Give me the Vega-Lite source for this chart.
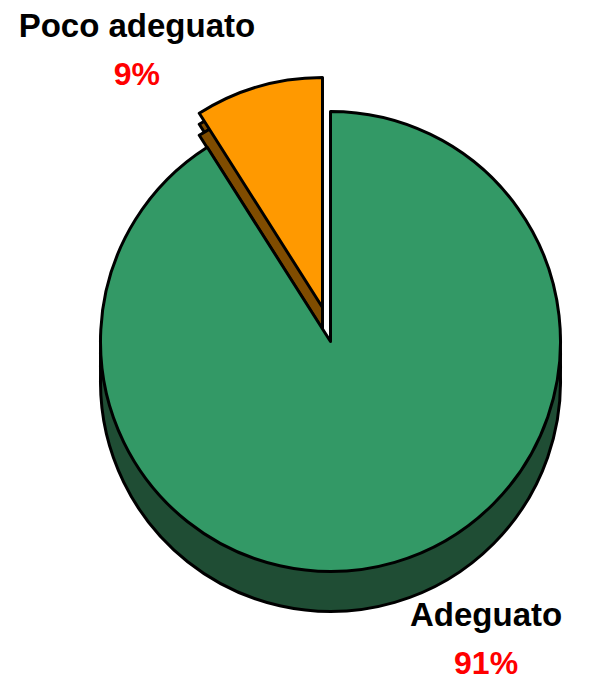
{
  "$schema": "https://vega.github.io/schema/vega-lite/v6.json",
  "width": 521,
  "height": 683,
  "autosize": {"type": "none"},
  "padding": {"left": 70, "top": 0, "right": 0, "bottom": 0},
  "config": {"view": {"stroke": null}},
  "data": {"values": [
    {"Esito": "Adeguato", "Percentuale": 91},
    {"Esito": "Poco adeguato", "Percentuale": 9}
  ]},
  "transform": [{"calculate": "datum.Percentuale + '%'", "as": "Etichetta"}],
  "encoding": {
    "theta": {"field": "Percentuale", "type": "quantitative", "stack": true},
    "order": {"field": "Percentuale", "type": "quantitative", "sort": "descending"},
    "detail": {"field": "Esito", "type": "nominal"}
  },
  "layer": [
    {"mark": {"type": "arc", "radius": 230, "yOffset": 12, "fill": "#1F4D34", "stroke": "black", "strokeWidth": 3, "strokeJoin": "round"},
     "encoding": {"opacity": {"condition": {"test": "datum.Esito === 'Adeguato'", "value": 1}, "value": 0}}},
    {"mark": {"type": "arc", "radius": 230, "yOffset": 25, "fill": "#1F4D34", "stroke": "black", "strokeWidth": 3, "strokeJoin": "round"},
     "encoding": {"opacity": {"condition": {"test": "datum.Esito === 'Adeguato'", "value": 1}, "value": 0}}},
    {"mark": {"type": "arc", "radius": 230, "yOffset": 40, "fill": "#1F4D34", "stroke": "black", "strokeWidth": 3, "strokeJoin": "round"},
     "encoding": {"opacity": {"condition": {"test": "datum.Esito === 'Adeguato'", "value": 1}, "value": 0}}},
    {"mark": {"type": "arc", "radius": 230, "xOffset": -8, "yOffset": -23, "fill": "#7F4C00", "stroke": "black", "strokeWidth": 3, "strokeJoin": "round"},
     "encoding": {"opacity": {"condition": {"test": "datum.Esito === 'Poco adeguato'", "value": 1}, "value": 0}}},
    {"mark": {"type": "arc", "radius": 230, "xOffset": -8, "yOffset": -12, "fill": "#7F4C00", "stroke": "black", "strokeWidth": 3, "strokeJoin": "round"},
     "encoding": {"opacity": {"condition": {"test": "datum.Esito === 'Poco adeguato'", "value": 1}, "value": 0}}},
    {"mark": {"type": "arc", "radius": 230, "xOffset": -8, "yOffset": -34, "fill": "#FF9900", "stroke": "black", "strokeWidth": 3, "strokeJoin": "round"},
     "encoding": {"opacity": {"condition": {"test": "datum.Esito === 'Poco adeguato'", "value": 1}, "value": 0}}},
    {"mark": {"type": "arc", "radius": 230, "fill": "#339966", "stroke": "black", "strokeWidth": 3, "strokeJoin": "round"},
     "encoding": {"opacity": {"condition": {"test": "datum.Esito === 'Adeguato'", "value": 1}, "value": 0}}},
    {"mark": {"type": "text", "radius": 342, "thetaOffset": -0.253, "dx": -19, "dy": -20, "font": "Liberation Sans", "fontWeight": "bold", "fontSize": 33, "fill": "black", "align": "center", "baseline": "middle"},
     "encoding": {"text": {"field": "Esito", "type": "nominal"}}},
    {"mark": {"type": "text", "radius": 342, "thetaOffset": -0.253, "dx": -19, "dy": 28, "font": "Liberation Sans", "fontWeight": "bold", "fontSize": 32, "fill": "#FF0000", "align": "center", "baseline": "middle"},
     "encoding": {"text": {"field": "Etichetta", "type": "nominal"}}}
  ]
}
